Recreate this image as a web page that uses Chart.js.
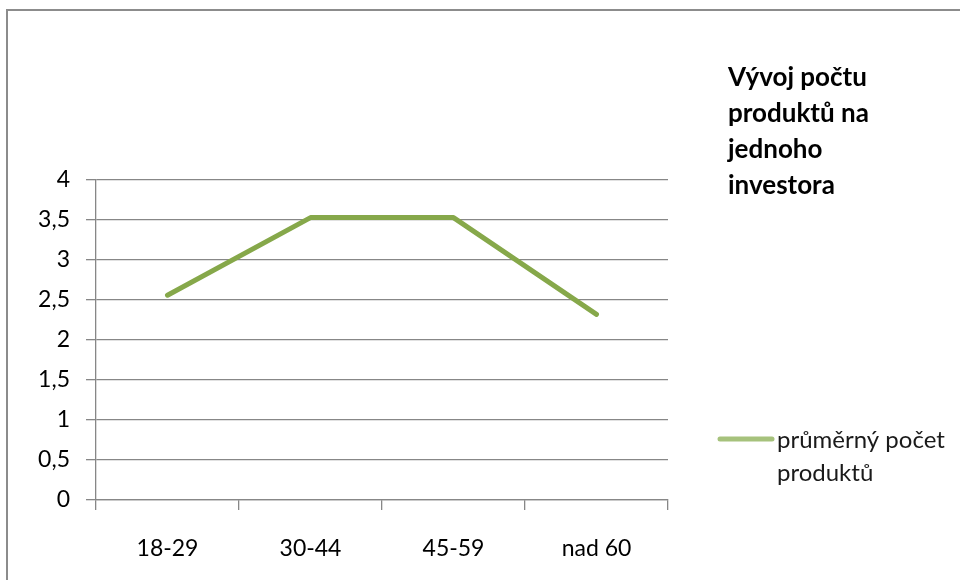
<!DOCTYPE html>
<html>
<head>
<meta charset="utf-8">
<script src="https://cdn.jsdelivr.net/npm/chart.js@4"></script>
<style>
  html, body { margin: 0; padding: 0; background: #fff; }
  #wrap { width: 960px; height: 580px; }
</style>
</head>
<body>
<div id="wrap"><canvas id="graf"></canvas></div>
<script>
const kategorie = ['18-29', '30-44', '45-59', 'nad 60'];
const prumerPocet = [2.56, 3.53, 3.53, 2.32];
const nazevRady = 'průměrný počet produktů';
const nadpis = ['Vývoj počtu', 'produktů na', 'jednoho', 'investora'];
const legendaRadky = ['průměrný počet', 'produktů'];

const pismo = 'Lato, "Open Sans", sans-serif';
const seda = '#878787';

// rámeček, nadpis a legenda vpravo
const doplnky = {
  id: 'doplnky',
  afterDraw(chart) {
    const ctx = chart.ctx;
    ctx.save();
    ctx.strokeStyle = '#8c8c8c';
    ctx.lineWidth = 2;
    ctx.beginPath();
    ctx.moveTo(7, 580);
    ctx.lineTo(7, 10);
    ctx.lineTo(960, 10);
    ctx.stroke();

    ctx.fillStyle = '#000';
    ctx.textBaseline = 'middle';
    ctx.font = 'bold 26px ' + pismo;
    nadpis.forEach((t, i) => ctx.fillText(t, 728, 78 + i * 36));

    ctx.strokeStyle = '#a6c27c';
    ctx.lineWidth = 5;
    ctx.lineCap = 'round';
    ctx.beginPath();
    ctx.moveTo(720, 439);
    ctx.lineTo(772, 439);
    ctx.stroke();

    ctx.font = '24px ' + pismo;
    ctx.fillStyle = '#1a1a1a';
    legendaRadky.forEach((t, i) => ctx.fillText(t, 777, 440 + i * 33));
    ctx.restore();
  }
};

new Chart(document.getElementById('graf'), {
  type: 'line',
  data: {
    labels: kategorie,
    datasets: [{
      label: nazevRady,
      data: prumerPocet,
      borderColor: '#86a84a',
      borderWidth: 5,
      borderCapStyle: 'round',
      borderJoinStyle: 'round',
      pointRadius: 0,
      tension: 0
    }]
  },
  options: {
    responsive: true,
    maintainAspectRatio: false,
    animation: false,
    layout: { padding: { left: 0, right: 292, top: 180, bottom: 0 } },
    plugins: { legend: { display: false }, tooltip: { enabled: false } },
    scales: {
      x: {
        offset: true,
        afterFit: s => { s.height = 80; },
        grid: { display: true, drawOnChartArea: false, drawTicks: true, tickLength: 10, color: seda, lineWidth: 1.3, offset: true },
        border: { color: seda, width: 1.3 },
        ticks: { color: '#000', padding: 25, font: { family: pismo, size: 23 } }
      },
      y: {
        min: 0,
        max: 4,
        afterFit: s => { s.width = 96; },
        ticks: {
          stepSize: 0.5,
          color: '#000',
          padding: 16,
          font: { family: pismo, size: 23 },
          callback: v => String(v).replace('.', ',')
        },
        grid: { color: seda, lineWidth: 1.3, tickLength: 10 },
        border: { color: seda, width: 1.3 }
      }
    }
  },
  plugins: [doplnky]
});
</script>
</body>
</html>
